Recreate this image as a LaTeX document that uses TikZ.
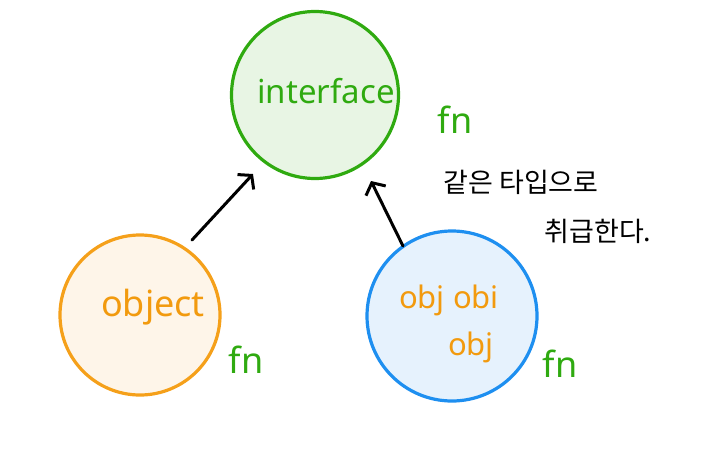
\documentclass[tikz,border=0pt]{standalone}
\usepackage{fontspec}
\setmainfont{Noto Sans}
\newfontfamily\kofont{Noto Sans CJK KR}
\usetikzlibrary{arrows.meta}
\definecolor{gstroke}{HTML}{2FAA10}
\definecolor{gfill}{HTML}{E8F5E4}
\definecolor{ostroke}{HTML}{F5A01A}
\definecolor{ofill}{HTML}{FEF5E9}
\definecolor{bstroke}{HTML}{1E8FF0}
\definecolor{bfill}{HTML}{E6F2FD}
\definecolor{otext}{HTML}{F29A0E}
\tikzset{
  blob/.style={circle, line width=3.2pt, inner sep=0pt},
  fnlabel/.style={text=gstroke, font=\fontsize{36}{36}\selectfont},
  arr/.style={line width=3pt, line cap=round, -{Straight Barb[length=9pt,width=22pt,line width=3pt]}},
  kotext/.style={font=\kofont\fontsize{27}{27}\selectfont, text=black},
}
\begin{document}
\begin{tikzpicture}[x=1pt,y=-1pt]
\useasboundingbox (0,0) rectangle (714,450);
\node[blob, draw=gstroke, fill=gfill, minimum size=167pt] (iface) at (315,95) {};
\node[text=gstroke, font=\fontsize{33}{33}\selectfont] (itext) at (326,91) {interface};
\node[blob, draw=ostroke, fill=ofill, minimum size=160pt] (obj) at (140,315) {};
\node[text=otext, font=\fontsize{36}{36}\selectfont] (otext) at (153,307) {object};
\node[blob, draw=bstroke, fill=bfill, minimum size=170pt] (objs) at (452,316) {};
\node[text=otext, font=\fontsize{31}{31}\selectfont] (b1) at (449,300) {obj obi};
\node[text=otext, font=\fontsize{31}{31}\selectfont] (b2) at (471,347) {obj};
\node[fnlabel] (fn1) at (455,120) {fn};
\node[fnlabel] (fn2) at (246,360) {fn};
\node[fnlabel] (fn3) at (560,364) {fn};
\node[kotext] (k1) at (521,182) {같은 타입으로};
\node[kotext] (k2) at (598,231) {취급한다.};
\coordinate (a1s) at (192,240);
\coordinate (a1e) at (253,174);
\coordinate (a2s) at (403,246);
\coordinate (a2e) at (371,181);
\draw[arr] (a1s) -- (a1e);
\draw[arr] (a2s) -- (a2e);
\end{tikzpicture}
\end{document}
